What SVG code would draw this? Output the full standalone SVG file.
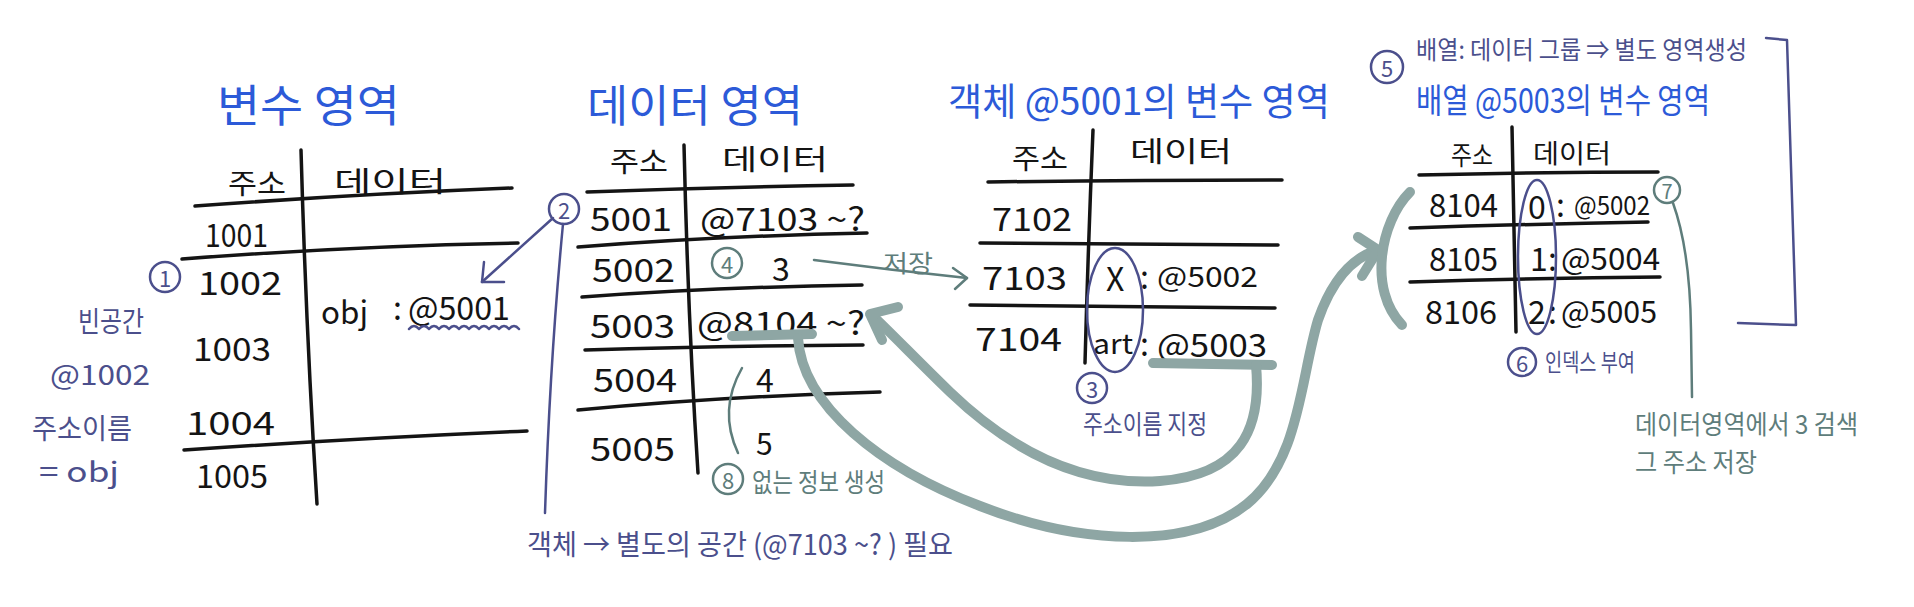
<svg xmlns="http://www.w3.org/2000/svg" width="1914" height="607" viewBox="0 0 1914 607">
<style>
text{font-family:"Noto Sans CJK KR","Noto Sans",sans-serif;dominant-baseline:central}
.k{fill:#141414;font-size:32px}
.h{fill:#141414;font-size:28px}
.b{fill:#2c5ad8;font-size:44px}
.p{fill:#4b4f8c;font-size:28px}
.g{fill:#5e7d7b;font-size:26px}
.ln{stroke:#141414;stroke-width:3.5;fill:none;stroke-linecap:round}
.pl{stroke:#4b4f8c;stroke-width:2.5;fill:none;stroke-linecap:round;stroke-linejoin:round}
.gl{stroke:#5e7d7b;stroke-width:2.5;fill:none;stroke-linecap:round;stroke-linejoin:round}
.big{stroke:#8ea6a4;stroke-width:10;fill:none;stroke-linecap:round;stroke-linejoin:round}
.cn{font-size:22px;text-anchor:middle}
</style>
<rect width="1914" height="607" fill="#ffffff"/>

<g id="var-area">
<text class="b" x="217" y="103" textLength="183" lengthAdjust="spacingAndGlyphs">변수 영역</text>
<text class="h" x="228" y="182" textLength="58" lengthAdjust="spacingAndGlyphs">주소</text>
<text class="h" x="334" y="180" textLength="112" lengthAdjust="spacingAndGlyphs">데이터</text>
<path class="ln" d="M301 150 Q306 330 317 504"/>
<path class="ln" d="M195 206 Q360 194 512 188"/>
<path class="ln" d="M182 259 Q350 246 518 243"/>
<path class="ln" d="M184 450 Q360 438 527 431"/>
<text class="k" x="205" y="233" textLength="63" lengthAdjust="spacingAndGlyphs">1001</text>
<text class="k" x="198" y="281" textLength="84" lengthAdjust="spacingAndGlyphs">1002</text>
<text class="k" x="193" y="347" textLength="78" lengthAdjust="spacingAndGlyphs">1003</text>
<text class="k" x="186" y="421" textLength="89" lengthAdjust="spacingAndGlyphs">1004</text>
<text class="k" x="196" y="474" textLength="72" lengthAdjust="spacingAndGlyphs">1005</text>
<text class="k" x="321" y="310" textLength="47" lengthAdjust="spacingAndGlyphs">obj</text>
<text class="k" x="393" y="306">:</text>
<text class="k" x="408" y="306" textLength="102" lengthAdjust="spacingAndGlyphs">@5001</text>
<path class="pl" d="M409 329 q5 -6 10 0 q5 -6 10 0 q5 -6 10 0 q5 -6 10 0 q5 -6 10 0 q5 -6 10 0 q5 -6 10 0 q5 -6 10 0 q5 -6 10 0 q5 -6 10 0 q5 -6 10 0"/>
</g>

<g id="note-1">
<circle class="pl" cx="165" cy="277" r="15"/>
<text class="p cn" x="165" y="277">1</text>
<text class="p" x="78" y="320" textLength="66" lengthAdjust="spacingAndGlyphs">빈공간</text>
<text class="p" x="50" y="373" textLength="100" lengthAdjust="spacingAndGlyphs">@1002</text>
<text class="p" x="32" y="427" textLength="100" lengthAdjust="spacingAndGlyphs">주소이름</text>
<text class="p" x="39" y="470" textLength="80" lengthAdjust="spacingAndGlyphs">= obj</text>
</g>

<g id="data-area">
<text class="b" x="587" y="103" textLength="216" lengthAdjust="spacingAndGlyphs">데이터 영역</text>
<text class="h" x="610" y="160" textLength="58" lengthAdjust="spacingAndGlyphs">주소</text>
<text class="h" x="722" y="158" textLength="106" lengthAdjust="spacingAndGlyphs">데이터</text>
<path class="ln" d="M684 145 Q688 320 698 473"/>
<path class="ln" d="M587 192 Q720 187 853 185"/>
<path class="ln" d="M578 247 Q720 236 867 233"/>
<path class="ln" d="M582 297 Q720 287 862 285"/>
<path class="ln" d="M585 350 Q720 346 863 345"/>
<path class="ln" d="M578 410 Q730 396 880 392"/>
<text class="k" x="590" y="217" textLength="82" lengthAdjust="spacingAndGlyphs">5001</text>
<text class="k" x="592" y="268" textLength="83" lengthAdjust="spacingAndGlyphs">5002</text>
<text class="k" x="590" y="324" textLength="85" lengthAdjust="spacingAndGlyphs">5003</text>
<text class="k" x="593" y="378" textLength="84" lengthAdjust="spacingAndGlyphs">5004</text>
<text class="k" x="590" y="447" textLength="85" lengthAdjust="spacingAndGlyphs">5005</text>
<text class="k" x="700" y="217" textLength="165" lengthAdjust="spacingAndGlyphs">@7103 ~?</text>
<text class="k" x="772" y="267">3</text>
<text class="k" x="697" y="321" textLength="168" lengthAdjust="spacingAndGlyphs">@8104 ~?</text>
<text class="k" x="756" y="378">4</text>
<text class="k" x="756" y="442" style="font-size:30px">5</text>
</g>

<g id="note-4">
<circle class="gl" cx="727" cy="263" r="15"/>
<text class="g cn" x="727" y="263">4</text>
</g>

<g id="note-8">
<path class="gl" d="M742 368 Q718 410 738 453"/>
<circle class="gl" cx="728" cy="479" r="15"/>
<text class="g cn" x="728" y="479">8</text>
<text class="g" x="752" y="480" textLength="133" lengthAdjust="spacingAndGlyphs">없는 정보 생성</text>
</g>

<g id="note-2">
<circle class="pl" cx="564" cy="209" r="15"/>
<text class="p cn" x="564" y="209">2</text>
<text class="p" x="527" y="543" textLength="426" lengthAdjust="spacingAndGlyphs">객체 → 별도의 공간 (@7103 ~? ) 필요</text>
</g>

<g id="obj-area">
<text class="b" x="948" y="98" style="font-size:38px" textLength="382" lengthAdjust="spacingAndGlyphs">객체 @5001의 변수 영역</text>
<text class="h" x="1012" y="157" textLength="56" lengthAdjust="spacingAndGlyphs">주소</text>
<text class="h" x="1130" y="150" textLength="102" lengthAdjust="spacingAndGlyphs">데이터</text>
<path class="ln" d="M1093 130 Q1088 250 1085 363"/>
<path class="ln" d="M988 182 Q1140 180 1282 180"/>
<path class="ln" d="M980 243 Q1130 244 1278 245"/>
<path class="ln" d="M970 305 Q1120 306 1275 308"/>
<text class="k" x="992" y="217" textLength="80" lengthAdjust="spacingAndGlyphs">7102</text>
<text class="k" x="982" y="276" textLength="85" lengthAdjust="spacingAndGlyphs">7103</text>
<text class="k" x="975" y="337" textLength="87" lengthAdjust="spacingAndGlyphs">7104</text>
<text class="k" x="1106" y="277">X</text>
<text class="k" x="1140" y="275">:</text>
<text class="k" x="1157" y="275" style="font-size:28px" textLength="101" lengthAdjust="spacingAndGlyphs">@5002</text>
<text class="k" x="1093" y="342" style="font-size:28px" textLength="40" lengthAdjust="spacingAndGlyphs">art</text>
<text class="k" x="1140" y="342">:</text>
<text class="k" x="1157" y="343" textLength="110" lengthAdjust="spacingAndGlyphs">@5003</text>
</g>

<g id="note-3">
<ellipse class="pl" cx="1115" cy="310" rx="28" ry="62"/>
<circle class="pl" cx="1092" cy="388" r="15"/>
<text class="p cn" x="1092" y="388">3</text>
<text class="p" x="1083" y="422" style="font-size:26px" textLength="124" lengthAdjust="spacingAndGlyphs">주소이름 지정</text>
</g>

<g id="note-5">
<circle class="pl" cx="1387" cy="67" r="16"/>
<text class="p cn" x="1387" y="67">5</text>
<text class="p" x="1416" y="48" style="font-size:25px" textLength="331" lengthAdjust="spacingAndGlyphs">배열: 데이터 그룹 ⇒ 별도 영역생성</text>
<path class="pl" d="M1766 38 L1787 40 Q1792 180 1796 325 L1738 323"/>
</g>

<g id="array-area">
<text class="b" x="1416" y="98" style="font-size:34px" textLength="294" lengthAdjust="spacingAndGlyphs">배열 @5003의 변수 영역</text>
<text class="h" x="1451" y="153" style="font-size:26px" textLength="42" lengthAdjust="spacingAndGlyphs">주소</text>
<text class="h" x="1533" y="151" style="font-size:26px" textLength="78" lengthAdjust="spacingAndGlyphs">데이터</text>
<path class="ln" d="M1512 127 Q1514 230 1516 332"/>
<path class="ln" d="M1419 175 Q1540 172 1658 172"/>
<path class="ln" d="M1410 228 Q1530 224 1648 222"/>
<path class="ln" d="M1410 282 Q1540 278 1660 277"/>
<text class="k" x="1429" y="203" textLength="69" lengthAdjust="spacingAndGlyphs">8104</text>
<text class="k" x="1429" y="257" textLength="69" lengthAdjust="spacingAndGlyphs">8105</text>
<text class="k" x="1425" y="310" textLength="72" lengthAdjust="spacingAndGlyphs">8106</text>
<text class="k" x="1528" y="205">0</text>
<text class="k" x="1556" y="203">:</text>
<text class="k" x="1574" y="203" style="font-size:26px" textLength="76" lengthAdjust="spacingAndGlyphs">@5002</text>
<text class="k" x="1530" y="257">1</text>
<text class="k" x="1548" y="257">:</text>
<text class="k" x="1561" y="257" style="font-size:30px" textLength="99" lengthAdjust="spacingAndGlyphs">@5004</text>
<text class="k" x="1528" y="310">2</text>
<text class="k" x="1548" y="310">:</text>
<text class="k" x="1561" y="310" style="font-size:30px" textLength="96" lengthAdjust="spacingAndGlyphs">@5005</text>
</g>

<g id="note-6">
<ellipse class="pl" cx="1537" cy="257" rx="19" ry="77"/>
<circle class="pl" cx="1522" cy="362" r="14"/>
<text class="p cn" x="1522" y="362">6</text>
<text class="p" x="1545" y="360" style="font-size:24px" textLength="90" lengthAdjust="spacingAndGlyphs">인덱스 부여</text>
</g>

<g id="note-7">
<circle class="gl" cx="1667" cy="190" r="13"/>
<text class="g cn" x="1667" y="190" style="font-size:20px">7</text>
<path class="gl" d="M1673 203 Q1690 250 1691 330 L1692 397"/>
<text class="g" x="1635" y="422" textLength="223" lengthAdjust="spacingAndGlyphs">데이터영역에서 3 검색</text>
<text class="g" x="1635" y="460" textLength="122" lengthAdjust="spacingAndGlyphs">그 주소 저장</text>
</g>

<g id="connectors">
<path class="pl" d="M553 218 L482 282"/>
<path class="pl" d="M484 262 L482 282 L504 282"/>
<path class="pl" d="M563 224 Q550 360 545 513"/>
<path class="gl" d="M814 260 Q890 270 967 278"/>
<path class="gl" d="M953 268 L967 278 L955 289"/>
<text class="g" x="883" y="261" style="font-size:24px" textLength="50" lengthAdjust="spacingAndGlyphs">저장</text>
<path class="big" d="M1153 363 L1272 365"/>
<path class="big" d="M1256 365 C1262 430 1240 475 1160 481 C1070 487 1000 440 950 392 C915 358 893 335 872 315"/>
<path class="big" d="M898 307 L870 314 L882 340"/>
<path class="big" d="M732 336 L812 334"/>
<path class="big" d="M798 338 C802 405 880 468 980 506 C1080 545 1190 550 1247 504 C1300 460 1300 380 1318 320 C1332 280 1352 258 1377 250"/>
<path class="big" d="M1358 237 L1378 250 L1362 276"/>
<path class="big" d="M1410 192 C1380 222 1368 290 1402 325"/>
</g>
</svg>
